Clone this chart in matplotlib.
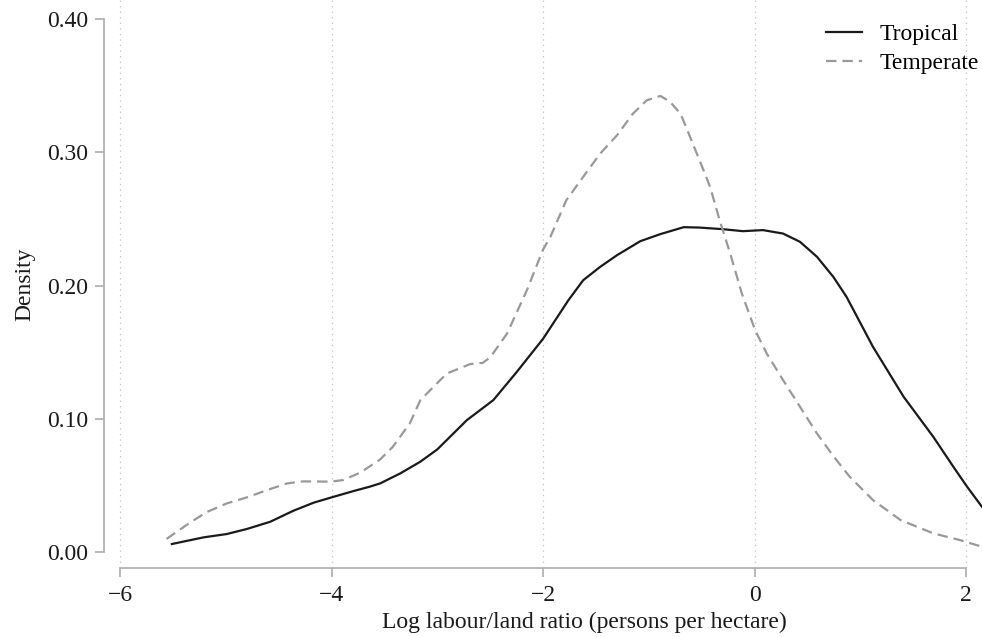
import matplotlib
matplotlib.use("Agg")
import matplotlib.pyplot as plt

# Font / style
plt.rcParams['font.family'] = ['Liberation Serif', 'DejaVu Serif']
plt.rcParams['lines.scale_dashes'] = False

# Data (kernel density estimates)
tropical_x = [-5.51, -5.21, -4.99, -4.80, -4.58, -4.36, -4.17, -4.00, -3.79, -3.64,
              -3.54, -3.35, -3.16, -3.00, -2.72, -2.47, -2.25, -2.00, -1.76, -1.62,
              -1.46, -1.30, -1.08, -0.89, -0.67, -0.52, -0.30, -0.11, 0.08, 0.27,
              0.43, 0.59, 0.745, 0.87, 1.12, 1.41, 1.69, 1.88, 2.01, 2.15]
tropical_y = [0.0060, 0.0110, 0.0135, 0.0173, 0.0227, 0.0310, 0.0370, 0.0410, 0.0458, 0.0490,
              0.0515, 0.0590, 0.0678, 0.0770, 0.0990, 0.1140, 0.1350, 0.1600, 0.1890, 0.2040,
              0.2140, 0.2228, 0.2333, 0.2386, 0.2438, 0.2435, 0.2423, 0.2408, 0.2416, 0.2390,
              0.2328, 0.2216, 0.2065, 0.1915, 0.1540, 0.1165, 0.0865, 0.0640, 0.0490, 0.0340]

temperate_x = [-5.56, -5.34, -5.18, -4.99, -4.80, -4.61, -4.42, -4.27, -4.01, -3.89,
               -3.73, -3.54, -3.42, -3.26, -3.16, -2.91, -2.69, -2.57, -2.50, -2.34,
               -2.15, -2.00, -1.93, -1.78, -1.62, -1.46, -1.30, -1.15, -1.02, -0.89,
               -0.80, -0.70, -0.61, -0.52, -0.42, -0.33, -0.23, -0.12, 0.005, 0.115,
               0.27, 0.43, 0.59, 0.75, 0.90, 1.12, 1.38, 1.69, 1.94, 2.15]
temperate_y = [0.0098, 0.0220, 0.0300, 0.0365, 0.0410, 0.0465, 0.0515, 0.0530, 0.0528, 0.0540,
               0.0595, 0.0695, 0.0790, 0.0965, 0.1140, 0.1340, 0.1410, 0.1420, 0.1460, 0.1640,
               0.1970, 0.2270, 0.2366, 0.2640, 0.2816, 0.2990, 0.3128, 0.3290, 0.3390, 0.3423,
               0.3380, 0.3290, 0.3116, 0.2940, 0.2740, 0.2490, 0.2240, 0.1940, 0.1666, 0.1490,
               0.1290, 0.1090, 0.0890, 0.0715, 0.0565, 0.0390, 0.0240, 0.0140, 0.0090, 0.0040]

x_ticks = [-6, -4, -2, 0, 2]
y_ticks = [0.0, 0.1, 0.2, 0.3, 0.4]
y_ticklabels = ["0.00", "0.10", "0.20", "0.30", "0.40"]

W, H = 982, 637
FS = 17
fig = plt.figure(figsize=(W / 100, H / 100), dpi=100)
ax = fig.add_axes([110 / W, (H - 568) / H, 872 / W, 568 / H])

ax.plot(tropical_x, tropical_y, color='#1a1a1a', lw=1.6, label='Tropical')
ax.plot(temperate_x, temperate_y, color='#999999', lw=1.6, dashes=(7.5, 4.3), label='Temperate')

ax.set_xlim(-6.095, 2.151)
ax.set_ylim(-0.012, 0.4143)

ax.set_xticks(x_ticks)
ax.set_yticks(y_ticks)
ax.set_yticklabels(y_ticklabels)

# dotted vertical grid
ax.grid(axis='x', linestyle=(0, (1, 3)), color='#c8c8c8', lw=0.9)
ax.grid(axis='y', visible=False)

spine_col = '#b3b3b3'
for s in ['top', 'right']:
    ax.spines[s].set_visible(False)
ax.spines['bottom'].set_bounds(-6, 2)
ax.spines['left'].set_bounds(0, 0.4)
ax.spines['left'].set_position(('outward', 4.3))
for s in ['bottom', 'left']:
    ax.spines[s].set_color(spine_col)
    ax.spines[s].set_linewidth(1.3)

ax.tick_params(axis='both', colors=spine_col, length=6.5, width=1.3, labelcolor='#1a1a1a', labelsize=FS)
ax.tick_params(axis='y', pad=5)
ax.tick_params(axis='x', pad=6)

ax.set_xlabel('Log labour/land ratio (persons per hectare)', fontsize=FS, color='#1a1a1a')
ax.set_ylabel('Density', fontsize=FS, color='#1a1a1a')
ax.xaxis.set_label_coords(0.5436, -0.077)
ax.yaxis.set_label_coords(-0.086, 0.5)

leg = ax.legend(loc='upper right', frameon=False, fontsize=FS, handlelength=1.5,
                handletextpad=0.75, labelspacing=0.3, borderaxespad=0.0,
                bbox_to_anchor=(1.007, 0.975))

fig.savefig('out.png', dpi=100)
